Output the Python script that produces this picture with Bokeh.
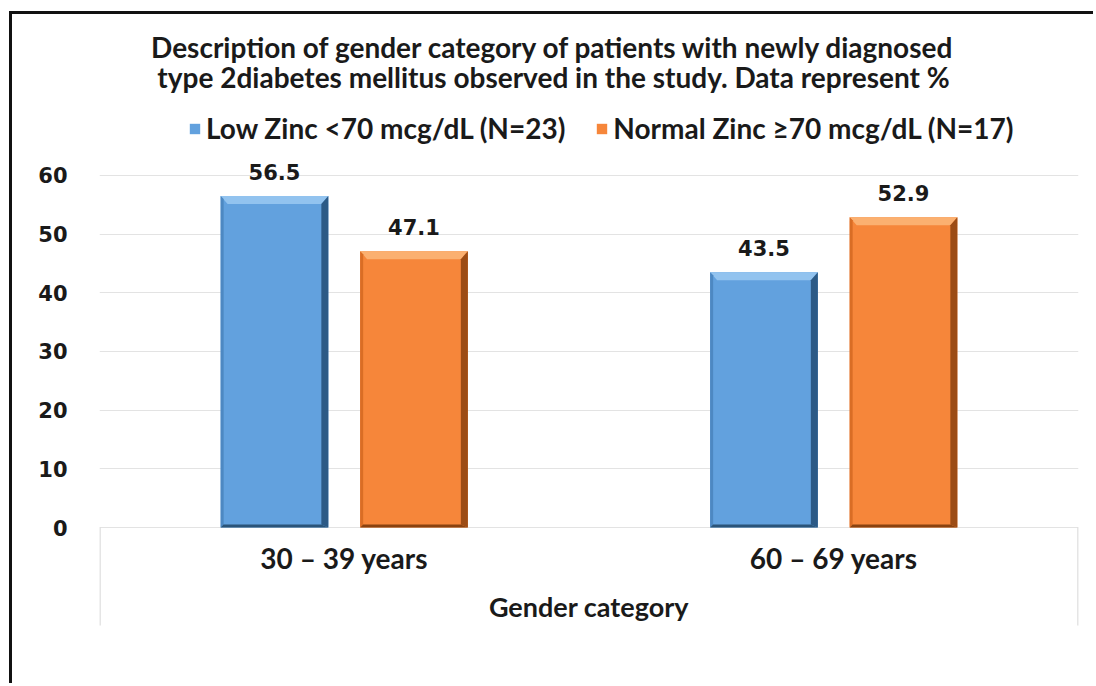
from bokeh.plotting import figure
from bokeh.models import ColumnDataSource, Range1d, FixedTicker, Legend, LegendItem
from bokeh.core.properties import value
from bokeh.embed import file_html
from bokeh.resources import INLINE

# --- data -------------------------------------------------------------
categories = ["30 \u2013 39 years", "60 \u2013 69 years"]
series_names = ["Low Zinc <70 mcg/dL (N=23)", "Normal Zinc \u226570 mcg/dL (N=17)"]
low_zinc = [56.5, 43.5]
normal_zinc = [47.1, 52.9]
y_ticks = [0, 10, 20, 30, 40, 50, 60]

title_lines = ["Description of gender category of patients with newly diagnosed",
               "type 2diabetes mellitus observed in the study. Data represent %"]
x_title = "Gender category"

# --- styling ----------------------------------------------------------
TEXT_FONT = "Lato"
NUM_FONT = "DejaVu Sans"
INK = "#1a1a1a"
styles = [
    # main, top bevel, right bevel, left edge, bottom edge
    dict(main="#62a1de", top="#92c3ef", right="#2c5a86", left="#4d88c2", bottom="#2a5479"),
    dict(main="#f6863a", top="#fbb070", right="#9c4c15", left="#d96d25", bottom="#8a420f"),
]
OFFSET = 0.1425
BAR_W = 0.22

CW, CH = 1084, 672
FRAME_W = 979
PX_PER_UNIT = 5.8667           # vertical pixels per value unit
ZERO_FROM_TOP = 513            # pixels from canvas top to the zero line
y_top = ZERO_FROM_TOP / PX_PER_UNIT
y_bottom = y_top - CH / PX_PER_UNIT

n = len(categories)
p = figure(width=CW, height=CH, output_backend="svg", toolbar_location=None,
           x_range=Range1d(0, n), y_range=Range1d(y_bottom, y_top),
           min_border_left=87, min_border_right=CW - 87 - FRAME_W, min_border_top=0,
           min_border_bottom=0, outline_line_color=None,
           margin=(11, 0, 0, 9),
           styles={"border-left": "3px solid #111111", "border-top": "3px solid #111111"})
p.background_fill_color = "white"
p.border_fill_color = "white"

px_x = n / FRAME_W
px_y = 1 / PX_PER_UNIT
bev_x = 7 * px_x
bev_y = 8 * px_y

# light box under the category axis
box_depth = 98 * px_y
p.segment(x0=[0.001, n - 0.001], y0=[0, 0], x1=[0.001, n - 0.001], y1=[-box_depth, -box_depth],
          line_color="#dcdcdc", line_width=1.5)

# gridlines (drawn first so bars sit on top)
p.xgrid.grid_line_color = None
p.ygrid.ticker = FixedTicker(ticks=y_ticks)
p.ygrid.grid_line_color = "#e3e3e3"
p.ygrid.grid_line_width = 1.2

renderers = []
for si, vals in enumerate([low_zinc, normal_zinc]):
    st = styles[si]
    off = -OFFSET if si == 0 else OFFSET
    xs = [i + 0.5 + off for i in range(n)]
    src = ColumnDataSource(dict(x=xs, top=vals, label=[f"{v:.1f}" for v in vals]))
    r = p.vbar(x="x", top="top", bottom=0, width=BAR_W, source=src,
               fill_color=st["main"], line_color=None)
    renderers.append(r)

    lefts = [x - BAR_W / 2 for x in xs]
    rights = [x + BAR_W / 2 for x in xs]
    # top bevel (light)
    p.patches(xs=[[l, r_, r_ - bev_x, l + bev_x] for l, r_ in zip(lefts, rights)],
              ys=[[v, v, v - bev_y, v - bev_y] for v in vals],
              fill_color=st["top"], line_color=None)
    # right bevel (dark)
    p.patches(xs=[[r_, r_, r_ - bev_x, r_ - bev_x] for r_ in rights],
              ys=[[v, 0, 3 * px_y, v - bev_y] for v in vals],
              fill_color=st["right"], line_color=None)
    # left edge (slightly darker)
    p.patches(xs=[[l, l + 3 * px_x, l + 3 * px_x, l] for l in lefts],
              ys=[[v, v - 3 * px_y, 3 * px_y, 0] for v in vals],
              fill_color=st["left"], line_color=None)
    # bottom edge
    p.patches(xs=[[l, r_, r_ - bev_x, l + 3 * px_x] for l, r_ in zip(lefts, rights)],
              ys=[[0, 0, 3 * px_y, 3 * px_y] for _ in vals],
              fill_color=st["bottom"], line_color=None)

    # value labels
    p.text(x="x", y="top", text="label", source=src, text_align="center",
           text_baseline="middle", y_offset=-24, text_font=value(NUM_FONT),
           text_font_style="bold", text_font_size="21px", text_color=INK)

# --- axes -------------------------------------------------------------
p.xaxis.visible = False
p.yaxis.ticker = FixedTicker(ticks=y_ticks)
p.yaxis.axis_line_color = None
p.yaxis.major_tick_line_color = None
p.yaxis.minor_tick_line_color = None
p.yaxis.major_label_standoff = 26
p.yaxis.major_label_text_font = NUM_FONT
p.yaxis.major_label_text_font_style = "bold"
p.yaxis.major_label_text_font_size = "21px"
p.yaxis.major_label_text_color = INK

# category labels and axis title beneath the zero line
cat_src = ColumnDataSource(dict(x=[i + 0.5 for i in range(n)], y=[-30 * px_y] * n, text=categories))
p.text(x="x", y="y", text="text", source=cat_src, text_align="center", text_baseline="middle",
       text_font=value(TEXT_FONT), text_font_style="bold", text_font_size="28px", text_color=INK)
p.text(x=[n / 2], y=[-79 * px_y], text=[x_title], text_align="center", text_baseline="middle",
       text_font=value(TEXT_FONT), text_font_style="bold", text_font_size="27px", text_color=INK)

# --- title ------------------------------------------------------------
title_x = (553 - 99) * px_x
p.text(x=[title_x] * len(title_lines), y=[481 * px_y, 451 * px_y], text=title_lines,
       text_align="center", text_baseline="middle", text_font=value(TEXT_FONT),
       text_font_style="bold", text_font_size="28px", text_color=INK)

# --- legend -----------------------------------------------------------
legend = Legend(items=[LegendItem(label=nm, renderers=[r]) for nm, r in zip(series_names, renderers)],
                orientation="horizontal", location=(89, 541),
                label_text_font=TEXT_FONT, label_text_font_style="bold",
                label_text_font_size="28px", label_text_color=INK,
                glyph_width=13, glyph_height=13, label_standoff=5, spacing=30,
                border_line_color=None, background_fill_alpha=0, padding=4, margin=0)
p.add_layout(legend, "center")

open("out.html", "w").write(file_html(p, INLINE))
